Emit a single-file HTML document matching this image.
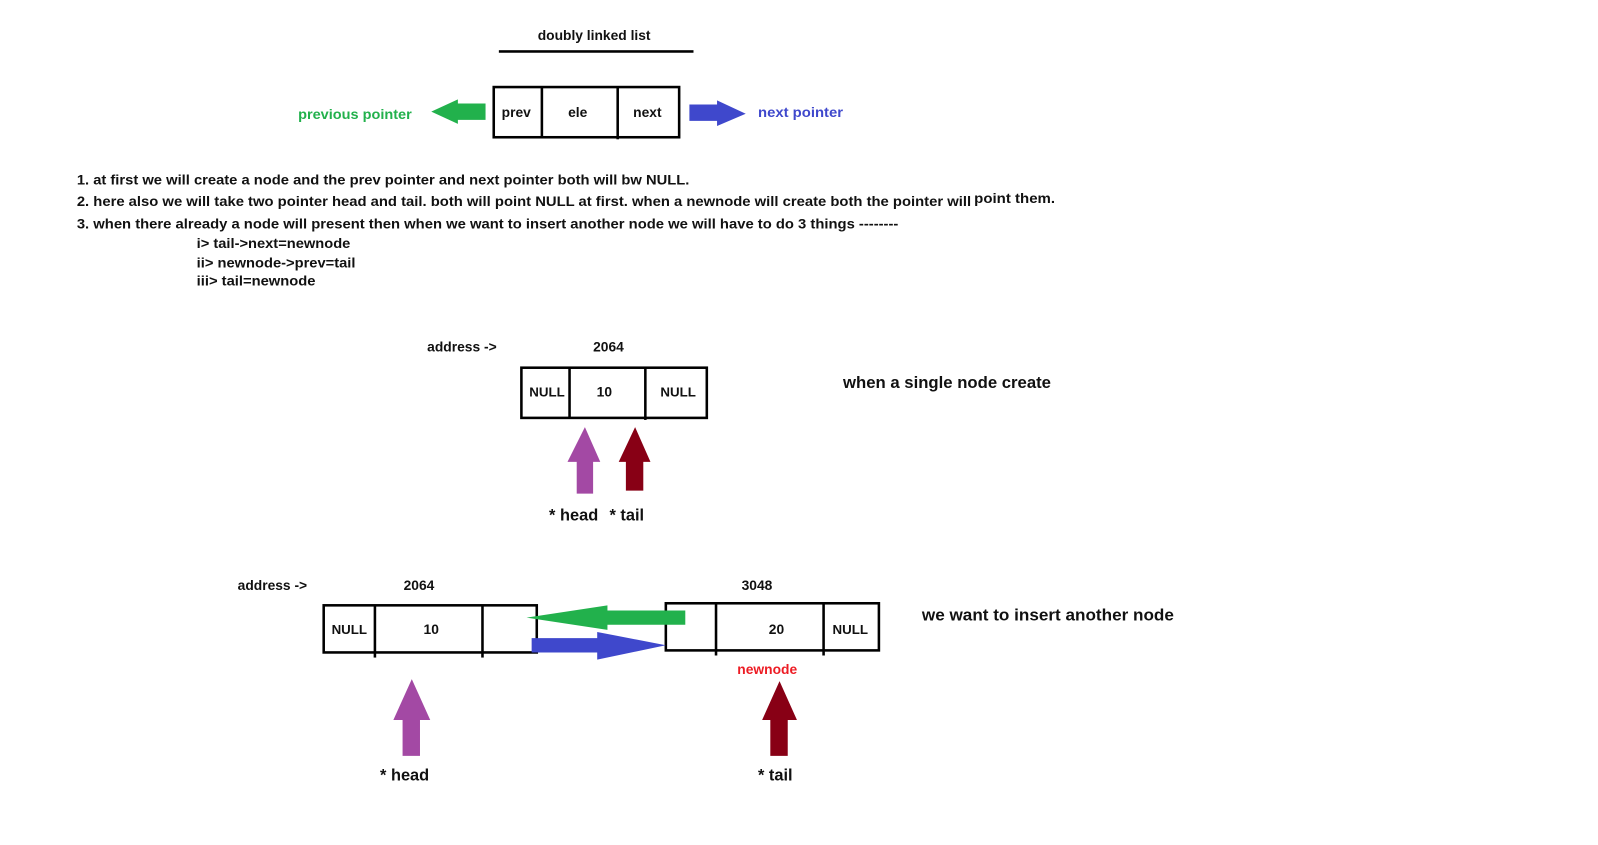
<!DOCTYPE html>
<html><head><meta charset="utf-8"><style>
html,body{margin:0;padding:0;background:#fff;width:1598px;height:845px;overflow:hidden}
svg{display:block}
text{font-family:"Liberation Sans",sans-serif;font-weight:bold;fill:#111}
</style></head><body>
<svg width="1598" height="845" viewBox="0 0 1560 825" preserveAspectRatio="none">
<g font-size="13.5">
<text x="580" y="39" text-anchor="middle">doubly linked list</text>
<rect x="487" y="49" width="190" height="2.5" fill="#000"/>
<rect x="482" y="85" width="181" height="49" fill="none" stroke="#000" stroke-width="2.5"/>
<line x1="529" y1="85" x2="529" y2="134" stroke="#000" stroke-width="2.5"/>
<line x1="603" y1="85" x2="603" y2="136" stroke="#000" stroke-width="2.5"/>
<text x="504" y="114" text-anchor="middle">prev</text>
<text x="564" y="114" text-anchor="middle">ele</text>
<text x="632" y="114" text-anchor="middle">next</text>
<polygon points="421,109 447,97 447,101 474,101 474,117 447,117 447,121" fill="#22b14c"/>
<text x="291" y="116" textLength="111" lengthAdjust="spacingAndGlyphs" style="fill:#22b14c">previous pointer</text>
<polygon points="673,102 700,102 700,98 728,111 700,123 700,118 673,118" fill="#3f48cc"/>
<text x="740" y="114" textLength="83" lengthAdjust="spacingAndGlyphs" style="fill:#3f48cc">next pointer</text>
<text x="75" y="180" textLength="598" lengthAdjust="spacingAndGlyphs">1. at first we will create a node and the prev pointer and next pointer both will bw NULL.</text>
<text x="75" y="201" textLength="873" lengthAdjust="spacingAndGlyphs">2. here also we will take two pointer head and tail. both will point NULL at first. when a newnode will create both the pointer will</text>
<text x="951" y="198" textLength="79" lengthAdjust="spacingAndGlyphs">point them.</text>
<text x="75" y="223" textLength="802" lengthAdjust="spacingAndGlyphs">3. when there already a node will present then when we want to insert another node we will have to do 3 things --------</text>
<text x="192" y="242" textLength="150" lengthAdjust="spacingAndGlyphs">i&gt; tail-&gt;next=newnode</text>
<text x="192" y="261" textLength="155" lengthAdjust="spacingAndGlyphs">ii&gt; newnode-&gt;prev=tail</text>
<text x="192" y="279" textLength="116" lengthAdjust="spacingAndGlyphs">iii&gt; tail=newnode</text>
<text x="417" y="343">address -&gt;</text>
<text x="594" y="343" text-anchor="middle">2064</text>
<rect x="509" y="359" width="181" height="49" fill="none" stroke="#000" stroke-width="2.5"/>
<line x1="556" y1="359" x2="556" y2="408" stroke="#000" stroke-width="2.5"/>
<line x1="630" y1="359" x2="630" y2="410" stroke="#000" stroke-width="2.5"/>
<text x="534" y="387" text-anchor="middle" font-size="13">NULL</text>
<text x="590" y="387" text-anchor="middle">10</text>
<text x="662" y="387" text-anchor="middle" font-size="13">NULL</text>
<text x="232" y="576">address -&gt;</text>
<text x="409" y="576" text-anchor="middle">2064</text>
<text x="739" y="576" text-anchor="middle">3048</text>
<rect x="316" y="591" width="208" height="46" fill="none" stroke="#000" stroke-width="2.5"/>
<line x1="366" y1="591" x2="366" y2="642" stroke="#000" stroke-width="2.5"/>
<line x1="471" y1="591" x2="471" y2="642" stroke="#000" stroke-width="2.5"/>
<text x="341" y="619" text-anchor="middle" font-size="13">NULL</text>
<text x="421" y="619" text-anchor="middle">10</text>
<rect x="650" y="589" width="208" height="46" fill="none" stroke="#000" stroke-width="2.5"/>
<line x1="699" y1="589" x2="699" y2="640" stroke="#000" stroke-width="2.5"/>
<line x1="804" y1="589" x2="804" y2="640" stroke="#000" stroke-width="2.5"/>
<text x="758" y="619" text-anchor="middle">20</text>
<text x="830" y="619" text-anchor="middle" font-size="13">NULL</text>
<text x="749" y="658" text-anchor="middle" style="fill:#ed1c24">newnode</text>
</g>
<polygon points="514,603 593,591 593,596 669,596 669,610 593,610 593,615" fill="#22b14c"/>
<polygon points="519,623 583,623 583,617 650,630 583,644 583,637 519,637" fill="#3f48cc"/>
<polygon points="571,417 586,451 579,451 579,482 563,482 563,451 554,451" fill="#a349a4"/>
<polygon points="620,417 635,451 628,451 628,479 611,479 611,451 604,451" fill="#880015"/>
<polygon points="402,663 420,703 410,703 410,738 393,738 393,703 384,703" fill="#a349a4"/>
<polygon points="761,665 778,703 769,703 769,738 752,738 752,703 744,703" fill="#880015"/>
<g font-size="16">
<text x="823" y="379" textLength="203" lengthAdjust="spacingAndGlyphs">when a single node create</text>
<text x="900" y="606" textLength="246" lengthAdjust="spacingAndGlyphs">we want to insert another node</text>
<text x="536" y="508">* head</text>
<text x="595" y="508">* tail</text>
<text x="371" y="762">* head</text>
<text x="740" y="762">* tail</text>
</g>
</svg>
</body></html>
